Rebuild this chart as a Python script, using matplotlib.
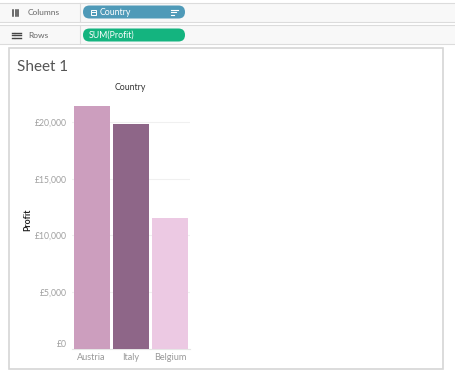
import matplotlib
matplotlib.use("Agg")
import matplotlib.pyplot as plt
from matplotlib.patches import Rectangle, FancyBboxPatch
from matplotlib.ticker import FuncFormatter, FixedLocator

countries = ["Austria", "Italy", "Belgium"]
profit = [21450, 19800, 11530]
bar_colors = ["#cc9ebe", "#8e6688", "#ecc9e3"]
yticks = [0, 5000, 10000, 15000, 20000]

W, H = 455, 379
fig = plt.figure(figsize=(W / 100, H / 100), dpi=100)
fig.patch.set_facecolor("white")

# overlay in pixel coords for the tableau chrome
bg = fig.add_axes([0, 0, 1, 1])
bg.set_xlim(0, W)
bg.set_ylim(H, 0)
bg.axis("off")

line_c = "#dcdcdc"
for y0, y1 in [(3, 22), (25, 44)]:
    bg.add_patch(Rectangle((0, y0), W, y1 - y0, facecolor="#f8f8f8", edgecolor="none"))
    bg.plot([0, W], [y0, y0], color=line_c, lw=0.8)
    bg.plot([0, W], [y1, y1], color=line_c, lw=0.8)
    bg.plot([80, 80], [y0, y1], color=line_c, lw=0.8)

# columns icon
for dx in [0, 2.5, 5]:
    bg.plot([13 + dx, 13 + dx], [10, 16], color="#444444", lw=1.1)
bg.text(28, 12.5, "Columns", fontsize=6, color="#666666", va="center", family="Lato")
# rows icon
for dy in [0, 2.5, 5]:
    bg.plot([12, 13.5], [32.5 + dy, 32.5 + dy], color="#444444", lw=1.0)
    bg.plot([15, 21], [32.5 + dy, 32.5 + dy], color="#444444", lw=1.0)
bg.text(28, 35, "Rows", fontsize=6, color="#666666", va="center", family="Lato")

# pills
bg.add_patch(FancyBboxPatch((83, 5.5), 102, 13, boxstyle="round,pad=0,rounding_size=6.5",
                            facecolor="#4f9ab8", edgecolor="none", mutation_aspect=1))
bg.add_patch(FancyBboxPatch((83, 28.5), 102, 13, boxstyle="round,pad=0,rounding_size=6.5",
                            facecolor="#14b47f", edgecolor="none", mutation_aspect=1))
bg.add_patch(Rectangle((91, 9.5), 5, 5, facecolor="none", edgecolor="white", lw=0.7))
bg.plot([92.2, 94.8], [12, 12], color="white", lw=0.7)
bg.text(100, 12.3, "Country", fontsize=6.3, color="white", va="center", family="Lato")
for i, ln in enumerate([7, 5, 3]):
    bg.plot([171, 171 + ln], [9.5 + i * 2.5, 9.5 + i * 2.5], color="white", lw=0.8)
bg.text(89, 35.3, "SUM(Profit)", fontsize=6.3, color="white", va="center", family="Lato")

# sheet panel
bg.add_patch(Rectangle((9, 48), 434, 321, facecolor="white", edgecolor="#d6d6d6", lw=1.2))
bg.text(17, 67, "Sheet 1", fontsize=11, color="#555555", va="center", family="Lato")
bg.text(130, 88, "Country", fontsize=6.3, color="#333333", ha="center", va="center", family="Lato")
bg.text(28, 220, "Profit", fontsize=6.3, color="#222222", ha="center", va="center",
        rotation=90, fontweight="bold", family="Lato")

# chart
ax = fig.add_axes([72 / W, (H - 349) / H, 118 / W, 252 / H])
ax.bar(range(len(countries)), profit, width=0.91, color=bar_colors, zorder=3)
ax.set_xlim(-0.5, 2.5)
ax.set_ylim(0, 22200)
ax.yaxis.set_major_locator(FixedLocator(yticks))
ax.yaxis.set_major_formatter(FuncFormatter(lambda v, p: "£{:,.0f}".format(v)))
ax.set_xticks(range(len(countries)))
ax.set_xticklabels(countries)
ax.grid(axis="y", color="#f0f0f0", lw=0.8, zorder=0)
for s in ax.spines.values():
    s.set_visible(False)
ax.spines["bottom"].set_visible(True)
ax.spines["bottom"].set_color("#e6e6e6")
ax.tick_params(axis="y", length=0, labelsize=6.2, labelcolor="#a0a0a0", pad=4)
ax.tick_params(axis="x", length=0, labelsize=6.6, labelcolor="#999999", pad=3)
for t in ax.get_xticklabels() + ax.get_yticklabels():
    t.set_family("Lato")
ax.get_yticklabels()[0].set_va("bottom")
ax.set_facecolor("none")

fig.savefig("out.png", dpi=100)
